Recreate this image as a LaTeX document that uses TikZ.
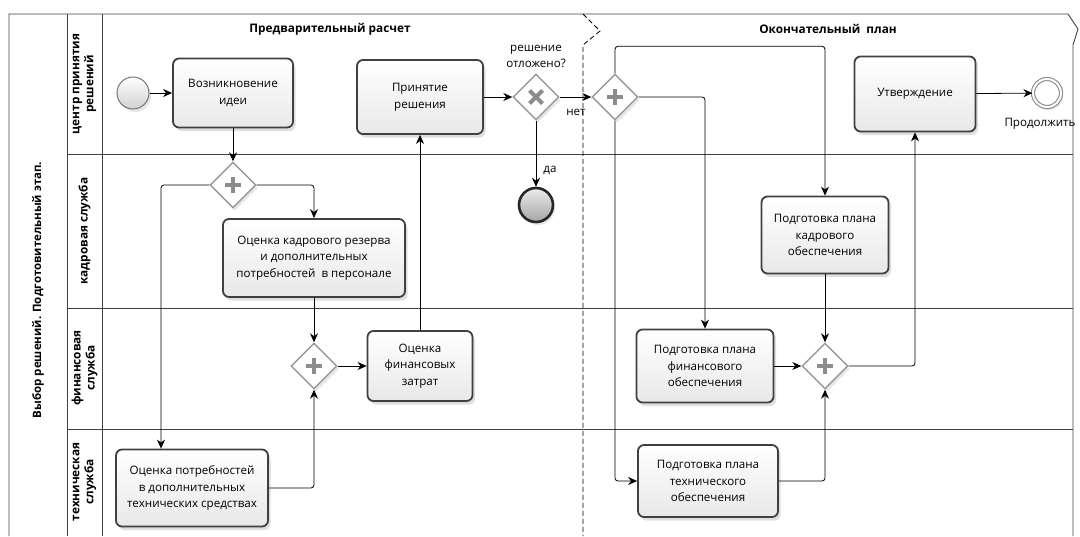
\documentclass[tikz,border=0pt]{standalone}
\usepackage{fontspec}
\setmainfont{Open Sans}
\usetikzlibrary{shapes.geometric,arrows.meta,shadows}
\newcommand\gplus[1]{%
  \draw[black!45,line width=4pt] ([xshift=-8pt]#1.center) -- ([xshift=8pt]#1.center);
  \draw[black!45,line width=4pt] ([yshift=-8pt]#1.center) -- ([yshift=8pt]#1.center);}
\newcommand\gcross[1]{%
  \draw[black!45,line width=4pt] ([shift={(-6.5pt,-6.5pt)}]#1.center) -- ([shift={(6.5pt,6.5pt)}]#1.center);
  \draw[black!45,line width=4pt] ([shift={(-6.5pt,6.5pt)}]#1.center) -- ([shift={(6.5pt,-6.5pt)}]#1.center);}
\begin{document}
\begin{tikzpicture}[x=1pt,y=-1pt,
  task/.style={draw=black!75, line width=1.8pt, rounded corners=6pt,
    top color=white, bottom color=black!9, align=center,
    font=\fontsize{11.6}{16.5}\selectfont, inner sep=0pt,
    drop shadow={opacity=0.25,shadow xshift=2.5pt,shadow yshift=-3.5pt}},
  gate/.style={diamond, draw=black!40, line width=1.4pt, fill=white,
    minimum width=46pt, minimum height=46pt, inner sep=0pt,
    drop shadow={opacity=0.2,shadow xshift=2pt,shadow yshift=-3pt}},
  flow/.style={-{Stealth[length=9pt,width=8pt]}, line width=0.8pt, rounded corners=3pt},
  lanelbl/.style={font=\bfseries\fontsize{11.8}{14}\selectfont, rotate=90, align=center},
  txt/.style={font=\fontsize{11.6}{16}\selectfont, align=center, inner sep=1pt},
  frame/.style={line width=0.9pt, draw=black!75},
]
\useasboundingbox (0,0) rectangle (1080,536);
% pool frame
\draw[frame] (9,536) -- (9,14) -- (1068,14) -- (1078,29) -- (1073,45) -- (1073,536);
\draw[frame] (67,14) -- (67,536);
\draw[frame] (102,14) -- (102,536);
\draw[frame] (67,154) -- (1073,154);
\draw[frame] (67,308) -- (1073,308);
\draw[frame] (67,429) -- (1073,429);
% phase divider
\draw[line width=0.8pt, dashed, dash pattern=on 5pt off 3pt] (583,14) -- (600,31) -- (583,45) -- (583,536);
% labels
\node[font=\bfseries\fontsize{11.5}{13}\selectfont, rotate=90] (pool) at (38,290) {Выбор решений. Подготовительный этап.};
\node[lanelbl] (l1) at (84.5,84) {центр принятия\\решений};
\node[lanelbl] (l2) at (84.5,231) {кадровая служба};
\node[lanelbl] (l3) at (84.5,368) {финансовая\\служба};
\node[lanelbl] (l4) at (84.5,482) {техническая\\служба};
\node[font=\bfseries\fontsize{11.8}{13}\selectfont] (ph1) at (330,29) {Предварительный расчет};
\node[font=\bfseries\fontsize{11.8}{13}\selectfont] (ph2) at (828,29) {Окончательный \ план};
% events
\node[circle, draw=black!55, line width=1pt, top color=white, bottom color=black!18, minimum size=32pt, inner sep=0pt,
  drop shadow={opacity=0.2,shadow xshift=2pt,shadow yshift=-3pt}] (start) at (133,93) {};
\node[circle, draw=black!85, line width=2.6pt, top color=black!8, bottom color=black!35, minimum size=34pt, inner sep=0pt,
  drop shadow={opacity=0.2,shadow xshift=2pt,shadow yshift=-3pt}] (endA) at (536,205) {};
\node[circle, draw=black!45, line width=1.1pt, double=white, double distance=2pt, fill=white, minimum size=28pt, inner sep=0pt,
  drop shadow={opacity=0.2,shadow xshift=2pt,shadow yshift=-3pt}] (endB) at (1047,93) {};
\node[txt, anchor=north] (endBl) at (1040,117) {Продолжить};
% tasks
\node[task, minimum width=120pt, minimum height=69pt] (t1) at (233,93) {Возникновение\\идеи};
\node[task, minimum width=182pt, minimum height=78pt] (t2) at (314,258) {Оценка кадрового резерва\\и дополнительных\\потребностей \ в персонале};
\node[task, minimum width=152pt, minimum height=77pt] (t3) at (192,488) {Оценка потребностей\\в дополнительных\\технических средствах};
\node[task, minimum width=105pt, minimum height=70pt] (t4) at (420,366) {Оценка\\финансовых\\затрат};
\node[task, minimum width=126pt, minimum height=74pt] (t5) at (420,97) {Принятие\\решения};
\node[task, minimum width=127pt, minimum height=77pt] (t6) at (825,235) {Подготовка плана\\кадрового\\обеспечения};
\node[task, minimum width=137pt, minimum height=73pt] (t7) at (705,366) {Подготовка плана\\финансового\\обеспечения};
\node[task, minimum width=140pt, minimum height=72pt] (t8) at (708,481) {Подготовка плана\\технического\\обеспечения};
\node[task, minimum width=121pt, minimum height=75pt] (t9) at (915,94) {Утверждение};
% gateways
\node[gate] (g1) at (233,185) {};
\node[gate] (g3) at (314,366) {};
\node[gate] (gx) at (536,97) {};
\node[gate] (g2) at (615,97) {};
\node[gate] (g4) at (825,366) {};
\gplus{g1}\gplus{g3}\gplus{g2}\gplus{g4}\gcross{gx}
\node[txt] (gxl) at (536,56) {решение\\отложено?};
% flows
\draw[flow] (start) -- (t1);
\draw[flow] (t1) -- (g1);
\draw[flow] (g1.west) -| ([xshift=-31pt]t3.north);
\draw[flow] (g1.east) -| (t2.north);
\draw[flow] (t2) -- (g3);
\draw[flow] (t3.east) -| (g3.south);
\draw[flow] (g3) -- (t4);
\draw[flow] (t4) -- (t5);
\draw[flow] (t5) -- (gx);
\draw[flow] (gx) -- (g2);
\node[txt] (no) at (576,112) {нет};
\draw[flow] (gx) -- (endA);
\node[txt] (yes) at (550,170) {да};
\draw[flow] (g2.north) -- ([yshift=27pt]g2.north) -| (t6.north);
\draw[flow] (g2.east) -| (t7.north);
\draw[flow] (g2.south) |- (t8.west);
\draw[flow] (t6) -- (g4);
\draw[flow] (t7) -- (g4);
\draw[flow] (t8.east) -| (g4.south);
\draw[flow] (g4.east) -| (t9.south);
\draw[flow] (t9) -- (endB);
\end{tikzpicture}
\end{document}
